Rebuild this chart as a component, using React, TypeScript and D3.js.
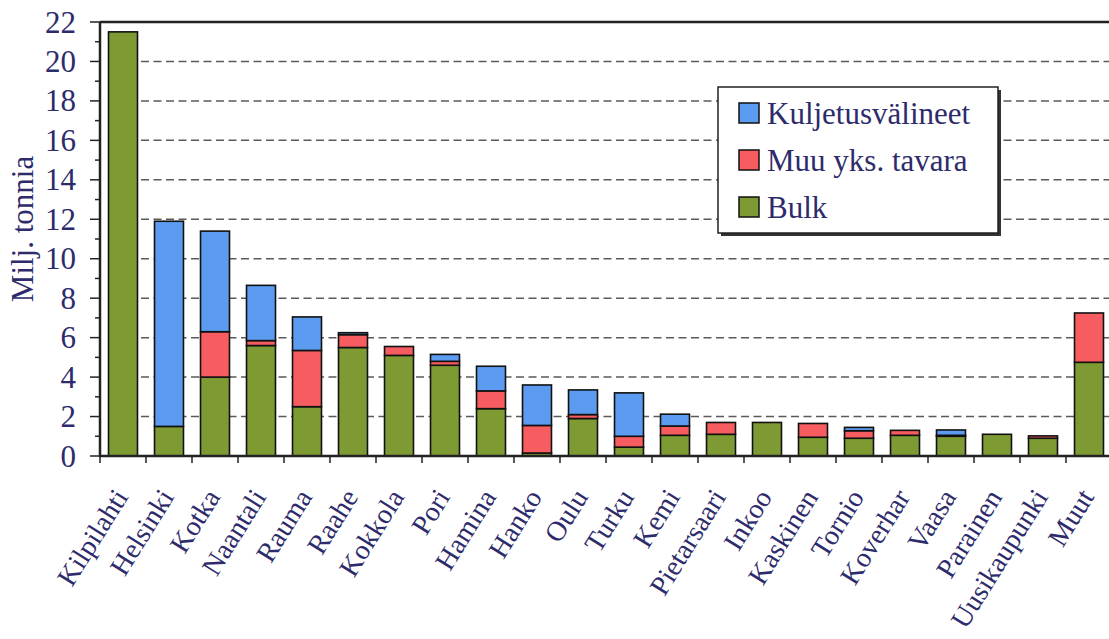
import React from "react";
import * as d3 from "d3";

const ports = [
  "Kilpilahti", "Helsinki", "Kotka", "Naantali", "Rauma", "Raahe", "Kokkola",
  "Pori", "Hamina", "Hanko", "Oulu", "Turku", "Kemi", "Pietarsaari", "Inkoo",
  "Kaskinen", "Tornio", "Koverhar", "Vaasa", "Parainen", "Uusikaupunki", "Muut",
];
const bulk = [21.5, 1.5, 4.0, 5.6, 2.5, 5.5, 5.1, 4.6, 2.4, 0.15, 1.9, 0.45, 1.05, 1.1, 1.7, 0.95, 0.9, 1.05, 1.0, 1.1, 0.9, 4.75];
const muu = [0, 0, 2.3, 0.25, 2.85, 0.65, 0.45, 0.2, 0.9, 1.4, 0.2, 0.55, 0.47, 0.6, 0, 0.7, 0.38, 0.25, 0.05, 0, 0.12, 2.5];
const kulj = [0, 10.4, 5.1, 2.8, 1.7, 0.1, 0, 0.35, 1.25, 2.05, 1.25, 2.2, 0.6, 0, 0, 0, 0.17, 0, 0.27, 0, 0, 0];

const seriesKeys = ["bulk", "muu", "kulj"];
const seriesNames: Record<string, string> = {
  kulj: "Kuljetusvälineet",
  muu: "Muu yks. tavara",
  bulk: "Bulk",
};
const colors: Record<string, string> = {
  kulj: "#5b9bf0",
  muu: "#f65c60",
  bulk: "#7e9a33",
};
const legendOrder = ["kulj", "muu", "bulk"];
const yTicks = d3.range(0, 23, 2);
const yMinor = d3.range(1, 22, 2);

const W = 1109;
const H = 639;
const marginLeft = 100;
const marginTop = 22;
const axisY = 456;
const bandW = 46;

const font = "Liberation Serif";
const ink = "#2d2b6b";

export default function App() {
  const rows = ports.map((p, i) => ({ port: p, bulk: bulk[i], muu: muu[i], kulj: kulj[i] }));
  const stacked = d3.stack<any>().keys(seriesKeys)(rows);

  const x = d3.scaleBand<string>()
    .domain(ports)
    .range([marginLeft, marginLeft + bandW * ports.length])
    .paddingInner(0.37)
    .paddingOuter(0.185);
  const y = d3.scaleLinear().domain([0, 22]).range([axisY, marginTop]);

  const step = x.step();
  const boundaries = d3.range(0, ports.length).map((i) => marginLeft + i * step);

  return (
    <svg width={W} height={H} fontFamily={font} style={{ position: "absolute", left: 0, top: 0, fontFamily: font }}>
      <style>{`text { font-family: "Liberation Serif", Tinos, serif; }`}</style>
      <rect x={0} y={0} width={W} height={H} fill="#fff" />
      {/* gridlines */}
      {yTicks.filter((t) => t > 0 && t < 22).map((t) => (
        <line key={"g" + t} x1={141} x2={W} y1={y(t)} y2={y(t)}
          stroke="#5a5a5a" strokeWidth={1.5} strokeDasharray="8,4.5" />
      ))}

      {/* bars */}
      {stacked.map((s) => (
        <g key={s.key} fill={colors[s.key]} stroke="#111" strokeWidth={1.6}>
          {s.map((d, i) => d[1] - d[0] > 0 ? (
            <rect key={i} x={x(ports[i])} width={x.bandwidth()}
              y={y(d[1])} height={y(d[0]) - y(d[1])} />
          ) : null)}
        </g>
      ))}

      {/* frame / axes */}
      <line x1={marginLeft} x2={W} y1={marginTop} y2={marginTop} stroke="#222" strokeWidth={2.5} />
      <line x1={marginLeft} x2={marginLeft} y1={marginTop} y2={axisY + 1} stroke="#222" strokeWidth={2.5} />
      <line x1={marginLeft} x2={W} y1={axisY} y2={axisY} stroke="#222" strokeWidth={2.5} />

      {yTicks.map((t) => (
        <line key={"ytl" + t} x1={90} x2={marginLeft} y1={y(t)} y2={y(t)} stroke="#222" strokeWidth={1.5} />
      ))}
      {yTicks.map((t) => (
        <text key={"yt" + t} x={76} y={y(t)} dy="0.34em" textAnchor="end" fontFamily={font}
          fontSize={31} fill={ink}>{t}</text>
      ))}
      {yMinor.map((t) => (
        <line key={"ym" + t} x1={95} x2={marginLeft} y1={y(t)} y2={y(t)} stroke="#222" strokeWidth={1.5} />
      ))}

      {boundaries.map((bx, i) => (
        <line key={"xt" + i} x1={bx} x2={bx} y1={axisY} y2={axisY + 7} stroke="#222" strokeWidth={1.5} />
      ))}

      {ports.map((p) => {
        const cx = (x(p) as number) + x.bandwidth() / 2 + 6;
        return (
          <text key={"xl" + p} transform={`translate(${cx},${497}) rotate(-58)`}
            textAnchor="end" fontFamily={font} fontSize={28} fill={ink}>{p}</text>
        );
      })}

      <text transform={`translate(33,229) rotate(-90)`} textAnchor="middle"
        fontFamily={font} fontSize={31} fill={ink}>Milj. tonnia</text>

      {/* legend */}
      <rect x={721} y={90} width={280} height={146} fill="#333" />
      <rect x={718} y={87} width={280} height={146} fill="#fff" stroke="#222" strokeWidth={1.5} />
      {legendOrder.map((k, i) => (
        <rect key={"ls" + k} x={739} y={103 + i * 47} width={20} height={20}
          fill={colors[k]} stroke="#111" strokeWidth={1.5} />
      ))}
      {legendOrder.map((k, i) => (
        <text key={"lt" + k} x={767} y={113 + i * 47} dy="0.34em" fontFamily={font}
          fontSize={31} fill={ink}>{seriesNames[k]}</text>
      ))}
    </svg>
  );
}
